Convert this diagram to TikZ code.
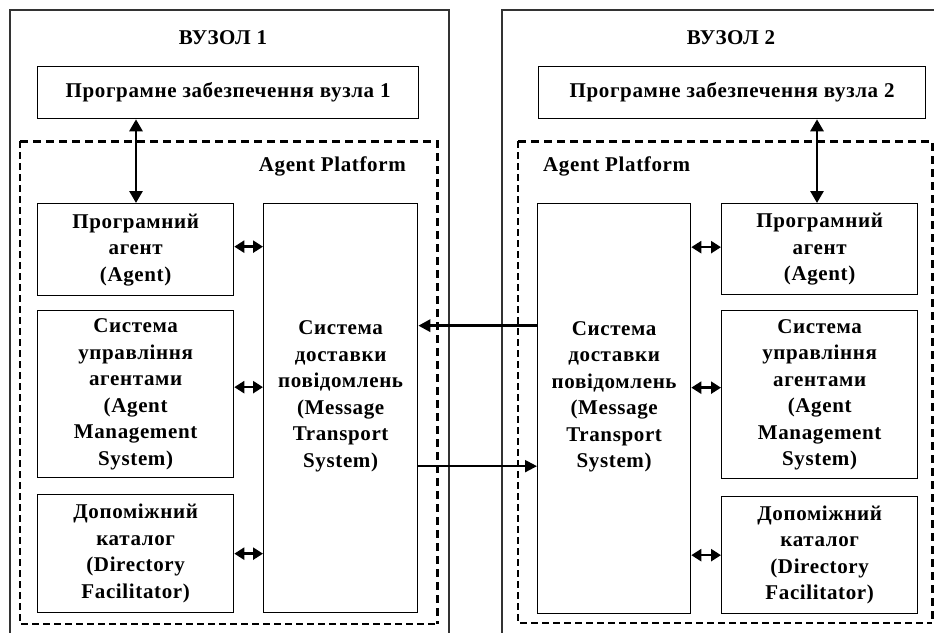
\documentclass[tikz,border=0pt]{standalone}
\usepackage{fontspec}
\setmainfont[LetterSpace=3]{Liberation Serif}
\usetikzlibrary{arrows.meta,calc}
\begin{document}
\begin{tikzpicture}[x=1pt,y=-1pt,
  fnt/.style={font=\bfseries\fontsize{21}{26.5}\selectfont},
  box/.style={draw,line width=1.3pt,inner sep=0pt,align=center,anchor=north west,fnt},
  txt/.style={inner sep=0pt,align=center,fnt},
  outer/.style={draw=black!80,line width=1.5pt},
  dthick/.style={line width=3pt,dash pattern=on 8pt off 5pt},
  dthin/.style={line width=2pt,dash pattern=on 7pt off 4pt},
  dbl/.style={line width=2.4pt,{Triangle[length=10pt,width=12pt]}-{Triangle[length=10pt,width=12pt]}},
  vdbl/.style={line width=2.8pt,{Triangle[length=12pt,width=13pt]}-{Triangle[length=12pt,width=13pt]}},
]
\useasboundingbox (0,0) rectangle (934,632);
% outer node frames
\draw[outer] (10,650) -- (10,10) -- (449,10) -- (449,650);
\draw[outer] (502,650) -- (502,10) -- (950,10);
\node[txt] (n1) at (223,38) {ВУЗОЛ 1};
\node[txt] (n2) at (731,38) {ВУЗОЛ 2};
% software boxes
\node[box,minimum width=381pt,minimum height=52pt] (sw1) at (37,66) {Програмне забезпечення вузла 1};
\node[box,minimum width=387pt,minimum height=52pt] (sw2) at (538,66) {Програмне забезпечення вузла 2};
% agent platforms (dashed)
\draw[dthin] (20,141) -- (20,624) -- (437,624);
\draw[dthick] (20,141) -- (437,141) -- (437,624);
\draw[dthin] (518,141) -- (518,623) -- (932,623);
\draw[dthick] (518,141) -- (932,141) -- (932,623);
\node[txt,anchor=east] (ap1) at (406,166) {Agent Platform};
\node[txt,anchor=west] (ap2) at (543,166) {Agent Platform};
% left inner boxes
\node[box,minimum width=196pt,minimum height=92pt] (ag1) at (37,203) {Програмний\\агент\\(Agent)};
\node[box,minimum width=196pt,minimum height=167pt] (ams1) at (37,310) {Система\\управління\\агентами\\(Agent\\Management\\System)};
\node[box,minimum width=196pt,minimum height=118pt] (df1) at (37,494) {Допоміжний\\каталог\\(Directory\\Facilitator)};
\node[box,minimum width=154pt,minimum height=409pt] (mts1) at (263,203) {};
\node[txt] (mt1) at ($(mts1.center)+(0,-12)$) {Система\\доставки\\повідомлень\\(Message\\Transport\\System)};
% right inner boxes
\node[box,minimum width=153pt,minimum height=410pt] (mts2) at (537,203) {};
\node[txt] (mt2) at ($(mts2.center)+(0,-12)$) {Система\\доставки\\повідомлень\\(Message\\Transport\\System)};
\node[box,minimum width=196pt,minimum height=91pt] (ag2) at (721,203) {Програмний\\агент\\(Agent)};
\node[box,minimum width=196pt,minimum height=168pt] (ams2) at (721,310) {Система\\управління\\агентами\\(Agent\\Management\\System)};
\node[box,minimum width=196pt,minimum height=117pt] (df2) at (721,496) {Допоміжний\\каталог\\(Directory\\Facilitator)};
% vertical arrows
\draw[vdbl] (sw1.south -| 136,0) -- (ag1.north -| 136,0);
\draw[vdbl] (sw2.south -| 817,0) -- (ag2.north -| 817,0);
% double arrows to MTS
\draw[dbl] ([yshift=3pt]ag1.east) -- ([yshift=3pt]ag1.east -| mts1.west);
\draw[dbl] ([yshift=7pt]ams1.east) -- ([yshift=7pt]ams1.east -| mts1.west);
\draw[dbl] (df1.east) -- (df1.east -| mts1.west);
\draw[dbl] ([yshift=2pt]ag2.west) -- ([yshift=2pt]ag2.west -| mts2.east);
\draw[dbl] ([yshift=7pt]ams2.west) -- ([yshift=7pt]ams2.west -| mts2.east);
\draw[dbl] (df2.west) -- (df2.west -| mts2.east);
% cross arrows
\draw[line width=3pt,-{Triangle[length=12pt,width=12pt]}] ([yshift=83pt]mts2.west) -- ([yshift=83pt]mts2.west -| mts1.east);
\draw[line width=2pt,-{Triangle[length=12pt,width=12pt]}] ([yshift=-58pt]mts1.east) -- ([yshift=-58pt]mts1.east -| mts2.west);
\end{tikzpicture}
\end{document}
